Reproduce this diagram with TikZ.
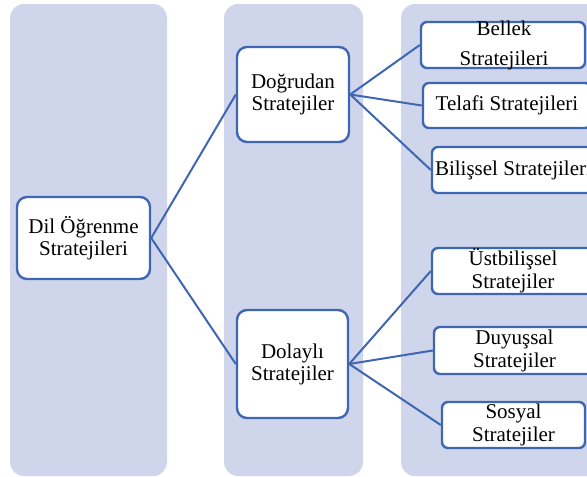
\documentclass[tikz,border=0pt]{standalone}
\usepackage{fontspec}
\setmainfont{Liberation Serif}
\definecolor{bgcol}{RGB}{207,213,234}
\definecolor{linecol}{RGB}{63,102,178}
\begin{document}
\begin{tikzpicture}[x=1pt,y=-1pt,
 column/.style={fill=bgcol, rounded corners=14pt},
 mainbox/.style={draw=linecol, line width=2.4pt, fill=white, rounded corners=10pt, inner sep=0pt, align=center, font=\fontsize{21}{22}\selectfont},
 subbox/.style={draw=linecol, line width=2.4pt, fill=white, rounded corners=6pt, inner sep=0pt, align=center, font=\fontsize{21}{23}\selectfont},
 conn/.style={draw=linecol, line width=2pt}]
\useasboundingbox (0,0) rectangle (587,477);
\begin{scope}
\clip (0,0) rectangle (587,477);
\fill[column] (10,4) rectangle (167,476);
\fill[column] (224,4) rectangle (363,476);
\fill[column] (401,4) rectangle (620,476);

\node[mainbox, minimum width=133pt, minimum height=82pt] (dil) at (83.5,238) {Dil Öğrenme\\Stratejileri};
\node[mainbox, minimum width=112pt, minimum height=95pt] (dog) at (293,94.5) {Doğrudan\\Stratejiler};
\node[mainbox, minimum width=111pt, minimum height=108pt] (dol) at (292.5,364) {Dolaylı\\Stratejiler};

\node[subbox, minimum width=164pt, minimum height=46pt] (bel) at (503,45) {};
\node[align=center, inner sep=0pt, font=\fontsize{21}{30}\selectfont] (beltext) at (504,45) {Bellek\\Stratejileri};
\node[subbox, minimum width=168pt, minimum height=45pt] (tel) at (507,105.5) {Telafi Stratejileri};
\node[subbox, minimum width=163pt, minimum height=46pt] (bil) at (513.5,170) {Bilişsel Stratejileri};
\node[subbox, minimum width=162pt, minimum height=46pt] (ust) at (513,271) {Üstbilişsel\\Stratejiler};
\node[subbox, minimum width=161pt, minimum height=47pt] (duy) at (514.5,350.5) {Duyuşsal\\Stratejiler};
\node[subbox, minimum width=143pt, minimum height=46pt] (sos) at (513.5,425) {Sosyal\\Stratejiler};

\draw[conn] (dil.east) -- (dog.west);
\draw[conn] (dil.east) -- (dol.west);
\draw[conn] (dog.east) -- (bel.west);
\draw[conn] (dog.east) -- (tel.west);
\draw[conn] (dog.east) -- (bil.west);
\draw[conn] (dol.east) -- (ust.west);
\draw[conn] (dol.east) -- (duy.west);
\draw[conn] (dol.east) -- (sos.west);
\end{scope}
\end{tikzpicture}
\end{document}
